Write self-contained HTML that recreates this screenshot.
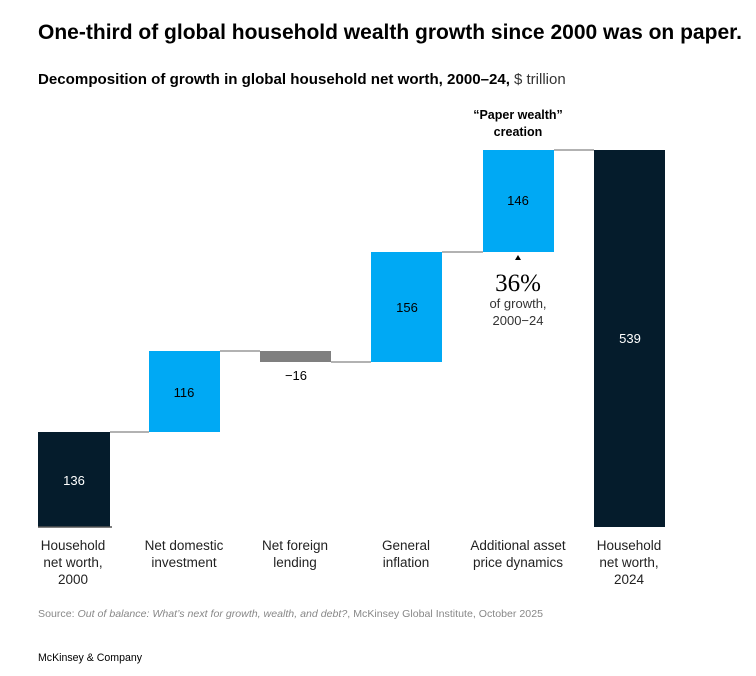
<!DOCTYPE html>
<html><head><meta charset="utf-8"><style>
body{margin:0;background:#fff;}
svg{display:block;font-family:"Liberation Sans",Arial,sans-serif;}
</style></head><body>
<svg width="756" height="676" viewBox="0 0 756 676">
<text x="38" y="39" font-size="21" font-weight="bold" fill="#000" textLength="704" lengthAdjust="spacingAndGlyphs">One-third of global household wealth growth since 2000 was on paper.</text>
<text x="38" y="84" font-size="14.5" font-weight="bold" fill="#000" textLength="472" lengthAdjust="spacingAndGlyphs">Decomposition of growth in global household net worth, 2000–24,</text>
<text x="514" y="84" font-size="15" fill="#333">$ trillion</text>
<text x="518" y="119" font-size="12.5" font-weight="bold" text-anchor="middle" fill="#000">“Paper wealth”</text>
<text x="518" y="136" font-size="12.5" font-weight="bold" text-anchor="middle" fill="#000">creation</text>
<g stroke="#999" stroke-width="1.5">
<line x1="110" y1="432" x2="149" y2="432"/>
<line x1="220" y1="351" x2="260" y2="351"/>
<line x1="331" y1="362" x2="371" y2="362"/>
<line x1="442" y1="252" x2="483" y2="252"/>
<line x1="554" y1="150" x2="594" y2="150"/>
</g>
<rect x="38" y="432" width="72" height="95" fill="#051c2c"/>
<line x1="38" y1="527" x2="112" y2="527" stroke="#555" stroke-width="1.5"/>
<rect x="149" y="351" width="71" height="81" fill="#00a9f4"/>
<rect x="260" y="351" width="71" height="11" fill="#7f7f7f"/>
<rect x="371" y="252" width="71" height="110" fill="#00a9f4"/>
<rect x="483" y="150" width="71" height="102" fill="#00a9f4"/>
<rect x="594" y="150" width="71" height="377" fill="#051c2c"/>
<g font-size="13" text-anchor="middle">
<text x="74" y="485" fill="#fff">136</text>
<text x="184" y="397" fill="#000">116</text>
<text x="296" y="380" fill="#000">−16</text>
<text x="407" y="312" fill="#000">156</text>
<text x="518" y="205" fill="#000">146</text>
<text x="630" y="343" fill="#fff">539</text>
</g>
<polygon points="515,260 521,260 518,255" fill="#000"/>
<text x="518" y="291" font-size="25" text-anchor="middle" fill="#000" font-family="Liberation Serif, serif">36%</text>
<text x="518" y="308" font-size="13" text-anchor="middle" fill="#333">of growth,</text>
<text x="518" y="325" font-size="13" text-anchor="middle" fill="#333">2000−24</text>
<g font-size="13.5" text-anchor="middle" fill="#222">
<text x="73" y="550">Household</text><text x="73" y="567">net worth,</text><text x="73" y="584">2000</text>
<text x="184" y="550">Net domestic</text><text x="184" y="567">investment</text>
<text x="295" y="550">Net foreign</text><text x="295" y="567">lending</text>
<text x="406" y="550">General</text><text x="406" y="567">inflation</text>
<text x="518" y="550">Additional asset</text><text x="518" y="567">price dynamics</text>
<text x="629" y="550">Household</text><text x="629" y="567">net worth,</text><text x="629" y="584">2024</text>
</g>
<text x="38" y="617" font-size="10.5" fill="#888" textLength="505" lengthAdjust="spacingAndGlyphs">Source: <tspan font-style="italic">Out of balance: What’s next for growth, wealth, and debt?</tspan>, McKinsey Global Institute, October 2025</text>
<text x="38" y="661" font-size="11" fill="#000" textLength="104" lengthAdjust="spacingAndGlyphs">McKinsey &amp; Company</text>
</svg>
</body></html>
